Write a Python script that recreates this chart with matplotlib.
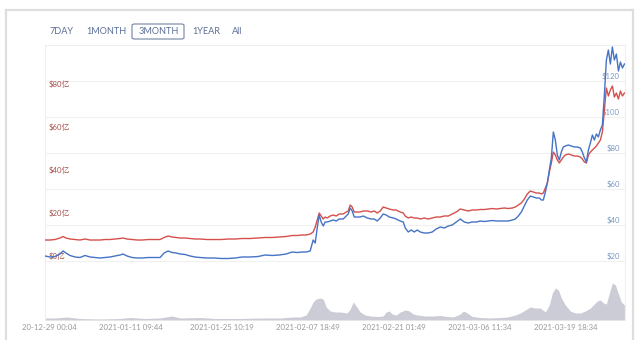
import pandas as pd
import matplotlib
matplotlib.use("Agg")
import matplotlib.pyplot as plt
from matplotlib.lines import Line2D
from matplotlib.patches import FancyBboxPatch
from matplotlib.transforms import blended_transform_factory, Bbox, TransformedBbox

# ---- data ---------------------------------------------------------------
start = pd.Timestamp("2020-12-29 00:04")

# days after start / price in $ / market cap in 亿 $
days = [0, 0.78, 1.55, 2.33, 2.80, 3.26, 3.88, 4.66, 5.43, 6.21, 6.99, 7.76, 8.54, 9.32,
        10.09, 10.87, 11.65, 12.11, 12.73, 13.51, 14.29, 15.06, 15.99, 16.93, 17.86, 18.48,
        19.10, 19.72, 20.34, 20.96, 21.74, 22.52, 23.29, 24.07, 25.16, 26.24, 27.33, 28.42,
        29.50, 30.59, 31.83, 33.07, 34.16, 35.25, 36.34, 37.42, 38.35, 39.13, 39.91, 40.53,
        41.15, 41.61, 41.93, 42.24, 42.55, 42.86, 43.17, 43.48, 43.79, 44.25, 44.72, 45.19,
        45.65, 46.27, 46.74, 47.05, 47.36, 47.67, 47.98, 48.45, 48.91, 49.38, 50.00, 50.62,
        51.09, 51.55, 52.02, 52.48, 52.95, 53.42, 54.04, 54.50, 55.12, 55.59, 55.90, 56.37,
        56.83, 57.30, 57.76, 58.23, 58.85, 59.47, 60.09, 60.71, 61.34, 61.96, 62.58, 63.20,
        63.82, 64.44, 65.06, 65.68, 66.30, 66.93, 67.55, 68.17, 68.79, 69.41, 70.03, 70.65,
        71.27, 71.89, 72.52, 72.98, 73.45, 73.91, 74.38, 74.84, 75.31, 75.78, 76.24, 76.71,
        77.02, 77.33, 77.64, 77.95, 78.26, 78.57, 78.88, 79.19, 79.50, 79.81, 80.12, 80.43,
        80.75, 81.21, 81.68, 82.14, 82.61, 83.07, 83.38, 83.70, 84.01, 84.32, 84.63, 84.94,
        85.25, 85.56, 85.87, 86.18, 86.49, 86.80, 87.11, 87.42, 87.73, 88.04, 88.35, 88.66,
        88.98, 89.29, 89.60, 89.91]

price = [22.78, 22.22, 22.50, 23.89, 25.56, 24.44, 23.06, 22.22, 21.94, 23.06, 22.22, 21.94,
         21.67, 21.94, 22.22, 22.78, 23.33, 23.89, 22.78, 21.94, 21.67, 21.67, 21.94, 21.94,
         21.94, 24.44, 25.56, 24.72, 24.44, 23.89, 23.61, 22.78, 22.22, 21.94, 21.67, 21.67,
         21.39, 21.39, 21.67, 22.22, 22.22, 22.50, 23.33, 23.06, 23.33, 23.89, 25.00, 24.72,
         25.00, 25.00, 25.56, 31.67, 30.00, 38.33, 45.56, 41.67, 39.44, 41.67, 41.67, 42.22,
         42.78, 42.22, 43.33, 43.33, 45.00, 46.11, 49.44, 47.78, 44.44, 44.44, 44.44, 45.00,
         43.89, 43.33, 43.33, 42.22, 43.89, 46.11, 45.56, 44.44, 43.89, 43.33, 42.22, 41.67,
         38.33, 36.11, 37.22, 36.11, 37.22, 36.11, 35.56, 35.56, 36.11, 37.78, 38.89, 38.33,
         39.44, 40.00, 41.67, 43.33, 41.67, 41.11, 41.67, 41.67, 42.22, 41.94, 42.22, 42.50,
         42.22, 42.22, 42.22, 42.22, 42.78, 43.33, 45.00, 47.22, 50.56, 53.89, 56.11, 55.56,
         55.00, 55.00, 53.89, 53.89, 58.33, 63.33, 70.56, 77.22, 91.67, 87.22, 78.89, 76.11,
         80.56, 83.33, 83.89, 84.44, 83.89, 83.33, 83.33, 82.78, 80.56, 77.22, 75.00, 81.67,
         85.56, 90.00, 87.22, 90.56, 88.89, 92.78, 95.56, 112.22, 131.67, 137.22, 129.44,
         138.89, 131.67, 135.00, 125.56, 130.56, 127.22, 129.44]

mcap = [9.30, 9.30, 9.53, 10.23, 10.93, 10.23, 9.77, 9.53, 9.30, 9.77, 9.30, 9.30, 9.30,
        9.53, 9.53, 9.77, 10.00, 10.23, 9.77, 9.53, 9.30, 9.30, 9.53, 9.53, 9.53, 10.47,
        11.16, 10.70, 10.47, 10.23, 10.23, 10.00, 9.77, 9.77, 9.53, 9.53, 9.53, 9.77, 9.77,
        10.00, 10.00, 10.23, 10.47, 10.47, 10.70, 10.93, 11.40, 11.40, 11.63, 11.63, 12.09,
        13.02, 15.35, 18.60, 21.86, 20.47, 19.07, 20.00, 19.53, 20.47, 20.93, 20.47, 21.40,
        21.40, 22.33, 22.79, 25.58, 24.65, 22.33, 22.33, 22.33, 22.79, 22.79, 22.33, 22.79,
        21.86, 22.79, 24.65, 24.19, 23.72, 23.26, 23.26, 22.33, 21.86, 20.47, 19.53, 20.00,
        19.53, 19.53, 19.07, 19.53, 19.07, 19.53, 20.00, 20.00, 20.47, 20.47, 21.40, 22.33,
        23.72, 23.26, 22.79, 23.26, 23.26, 23.49, 23.49, 23.72, 23.95, 23.72, 23.95, 24.19,
        23.95, 24.19, 24.65, 25.58, 26.51, 28.37, 30.70, 32.09, 31.63, 31.16, 31.16, 30.70,
        31.16, 33.49, 35.81, 40.93, 45.12, 50.23, 48.84, 46.51, 45.12, 46.51, 47.91, 48.84,
        49.30, 48.84, 48.37, 48.37, 47.91, 46.98, 45.58, 45.12, 48.84, 50.23, 51.16, 52.09,
        53.02, 54.42, 55.81, 59.53, 69.77, 80.00, 76.28, 79.07, 80.93, 75.81, 77.67, 74.88,
        78.60, 76.28, 77.67]

# 24h volume (亿 $)
vol_days = [0, 1.55, 3.42, 5.43, 8.54, 11.65, 13.20, 15.53, 17.86, 19.72, 20.96, 24.07,
            26.40, 30.28, 33.39, 36.49, 38.51, 39.60, 40.53, 41.15, 41.61, 42.08, 42.70,
            43.17, 43.63, 44.25, 45.03, 45.81, 46.89, 47.36, 47.83, 48.29, 48.91, 49.69,
            50.47, 51.71, 52.48, 52.95, 53.42, 53.88, 54.50, 55.12, 55.90, 56.52, 57.14,
            57.76, 59.01, 60.25, 61.34, 62.42, 63.35, 64.44, 64.91, 65.53, 66.30, 67.55,
            69.10, 70.65, 71.74, 72.98, 73.76, 74.53, 75.31, 76.09, 76.86, 77.64, 78.26,
            78.73, 79.19, 79.66, 80.12, 80.75, 81.52, 82.30, 83.07, 83.85, 84.63, 85.09,
            85.71, 86.18, 86.65, 87.11, 87.58, 88.04, 88.51, 88.98, 89.44, 89.91]
volume = [1, 1, 1.5, 0.75, 0.5, 0.75, 1.25, 0.75, 1, 2, 1, 1.25, 0.75, 0.75, 1, 1, 1.5,
          1.5, 2.5, 6, 9, 10.5, 11, 10.5, 6.5, 4.5, 4, 4, 3.5, 5.5, 9, 7, 4, 2.5, 2, 1.75,
          2, 4, 4.5, 3, 2.5, 4, 5, 4.5, 3, 2.5, 2, 2, 2.25, 1.75, 1.5, 3, 4.5, 3.5, 1.75,
          1.25, 1, 1.25, 1.5, 2.5, 3.5, 5, 6.5, 6, 6, 4, 7.5, 13.5, 16, 15, 11, 7.5, 4.5,
          3.5, 3.5, 4.5, 6, 7.5, 9.5, 10, 8.5, 8, 13.5, 18.5, 17.5, 13, 9, 7.5]

tick_times = ["2020-12-29 00:04", "2021-01-11 09:44", "2021-01-25 10:19", "2021-02-07 18:49",
              "2021-02-21 01:49", "2021-03-06 11:34", "2021-03-19 18:34"]
price_ticks = [20, 40, 60, 80, 100, 120]
mcap_ticks = [0, 20, 40, 60, 80]
ranges = ["7DAY", "1MONTH", "3MONTH", "1YEAR", "All"]
selected = "3MONTH"

# ---- style --------------------------------------------------------------
RED = "#d5504c"
BLUE = "#4673c6"
FONT = ["Lato", "Noto Sans CJK SC", "DejaVu Sans"]
W, H = 640, 340

fig = plt.figure(figsize=(W / 100, H / 100), dpi=100)
fig.patch.set_facecolor("white")

# card outline
for xs, ys in [([6, 6], [10, 340]), ([6, 633], [10, 10]), ([633, 633], [10, 340])]:
    fig.add_artist(Line2D([x / W for x in xs], [1 - y / H for y in ys],
                          transform=fig.transFigure, color="#dedede", lw=1.6))

# range selector
btn_x = [49, 86, 139, 192, 232]
for name, bx in zip(ranges, btn_x):
    fig.text(bx / W, 1 - 31.5 / H, name, fontsize=6.6, color="#5b6f95",
             family=FONT, va="center", ha="left")
    if name == selected:
        fig.add_artist(FancyBboxPatch((132 / W, 1 - 39 / H), 52 / W, 15 / H,
                                      boxstyle="round,pad=0,rounding_size=0.004",
                                      transform=fig.transFigure, fc="none",
                                      ec="#7483a3", lw=0.8))

# ---- axes ---------------------------------------------------------------
ax_v = fig.add_axes([45 / W, 20 / H, 580 / W, 275 / H])
ax_c = ax_v.twinx()
ax_p = ax_v.twinx()
for i, a in enumerate([ax_v, ax_c, ax_p]):
    a.set_zorder(i)
    a.set_xlim(0, 90)
    a.set_yticks([])
    if i:
        a.patch.set_visible(False)
        for s in a.spines.values():
            s.set_visible(False)
for s in ax_v.spines.values():
    s.set_color("#efefef")
    s.set_linewidth(0.8)
ax_v.spines["bottom"].set_visible(False)

ax_p.set_ylim(-12.78, 140)
ax_c.set_ylim(-27.9, 100)
ax_v.set_ylim(0, 137.5)

# volume
ax_v.fill_between(vol_days, volume, 0, color="#cbccd5", lw=0)

# gridlines and labels of both value axes
tr_p = blended_transform_factory(ax_v.transAxes, ax_p.transData)
tr_c = blended_transform_factory(ax_v.transAxes, ax_c.transData)
for v in price_ticks:
    ax_v.plot([0, 1], [v, v], transform=tr_p, color="#f0f0f0", lw=0.8)
    ax_v.text(1 - 5 / 580, v + 0.4, f"${v}", transform=tr_p, ha="right", va="bottom",
              fontsize=5.6, color="#7b98c6", family=FONT)
for v in mcap_ticks:
    ax_v.text(4 / 580, v, f"${v}亿", transform=tr_c, ha="left", va="bottom",
              fontsize=5.6, color="#a8504a", family=FONT)

# lines
ax_c.plot(days, mcap, color=RED, lw=1.0)
ax_p.plot(days, price, color=BLUE, lw=1.0)

# time axis
tick_pos = [(pd.Timestamp(t) - start) / pd.Timedelta("1D") for t in tick_times]
ax_v.set_xticks(tick_pos)
ax_v.set_xticklabels(tick_times, fontsize=5.6, color="#9a9a9a", family=FONT)
ax_v.tick_params(axis="x", length=0, pad=3)
clip = TransformedBbox(Bbox([[22 / W, 0], [1, 1]]), fig.transFigure)
for lbl in ax_v.get_xticklabels():
    lbl.set_clip_on(True)
    lbl.set_clip_box(clip)

fig.savefig("out.png", dpi=100)
